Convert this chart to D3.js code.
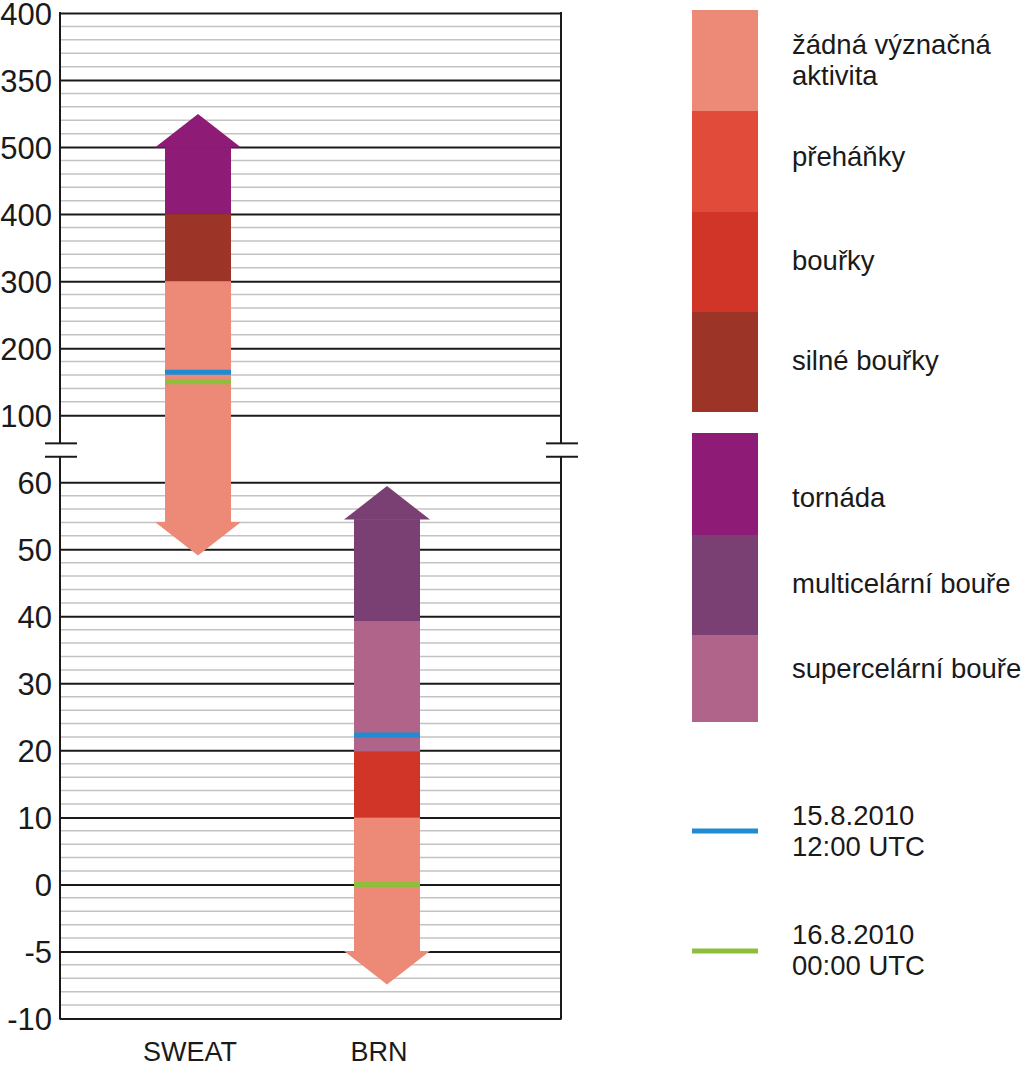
<!DOCTYPE html>
<html lang="cs">
<head>
<meta charset="UTF-8">
<title>SWEAT a BRN</title>
<script src="https://d3js.org/d3.v7.min.js"></script>
<style>
  body { margin: 0; background: #fff; }
  svg { display: block; font-family: "Liberation Sans", Arial, sans-serif; }
  .tick text { fill: #1a1a1a; }
</style>
</head>
<body>
<svg id="chart" width="1024" height="1066"></svg>
<script>
// --- data ---
var yTickLabels = ["400", "350", "500", "400", "300", "200", "100",
                   "60", "50", "40", "30", "20", "10", "0", "-5", "-10"];
var indices = ["SWEAT", "BRN"];

var categories = ["žádná význačná aktivita", "přeháňky", "bouřky", "silné bouřky",
                  "tornáda", "multicelární bouře", "supercelární bouře"];

// arrow segments, in the units of each index
var sweatSegments = [
  {cat: "tornáda", from: 400, to: 500},
  {cat: "silné bouřky", from: 300, to: 400},
  {cat: "žádná význačná aktivita", from: -60, to: 300}   // runs on past the axis break
];
var brnSegments = [
  {cat: "multicelární bouře", from: 39.3, to: 54.5},
  {cat: "supercelární bouře", from: 19.8, to: 39.3},
  {cat: "bouřky", from: 10, to: 19.8},
  {cat: "žádná význačná aktivita", from: -5, to: 10}
];

var dates = [["15.8.2010", "12:00 UTC"], ["16.8.2010", "00:00 UTC"]];
var sweatValues = [164, 150];
var brnValues = [22.3, 0];

// --- styles / layout ---
var catColor = d3.scaleOrdinal()
  .domain(categories)
  .range(["#ec8a77", "#e04b3a", "#d13527", "#9d3428", "#8e1b75", "#7a3f73", "#b0648a"]);
var dateColors = ["#1e8bd3", "#8dbf3d"];

var legendBoxes = [[10, 111], [111, 212], [212, 312], [312, 412], [433, 535], [535, 635], [635, 722]];
var legendBaselines = [54, 166, 270, 370, 507, 593, 678];
var dateLegendY = [831, 951];
var dateBaselines = [825, 944];

var plotLeft = 60, plotRight = 561;
var bodyW = 66, headW = 86, headH = 33;

var svg = d3.select("#chart");

// one row per tick label, the break sits between rows 6 and 7
var rowY = d3.scaleLinear().domain([0, yTickLabels.length - 1]).range([13, 1018.5]);
var sweatY = d3.scaleLinear().domain([100, 500]).range([rowY(6), rowY(2)]);
var brnY = d3.scaleLinear().domain([-10, -5, 0, 60]).range([rowY(15), rowY(14), rowY(13), rowY(7)]);
var x = d3.scalePoint().domain(indices).range([198, 387]);

// minor grid lines (4 per row, none inside the break)
var minorRows = [];
d3.range(yTickLabels.length - 1).forEach(function(i) {
  if (i === 6) return;
  for (var k = 1; k < 5; k++) minorRows.push(i + k / 5);
});
svg.append("g").selectAll("line").data(minorRows).join("line")
  .attr("x1", plotLeft).attr("x2", plotRight)
  .attr("y1", function(d) { return rowY(d); }).attr("y2", function(d) { return rowY(d); })
  .attr("stroke", "#c3c3c3").attr("stroke-width", 1.5);

// major grid lines
var grid = svg.append("g")
  .attr("transform", "translate(" + plotLeft + ",0)")
  .call(d3.axisRight(rowY).tickValues(d3.range(yTickLabels.length))
    .tickSize(plotRight - plotLeft).tickFormat(""));
grid.select(".domain").remove();
grid.selectAll(".tick line").attr("stroke", "#1a1a1a").attr("stroke-width", 2);

// y labels
var yAxis = svg.append("g")
  .attr("transform", "translate(" + plotLeft + ",0)")
  .call(d3.axisLeft(rowY).tickValues(d3.range(yTickLabels.length))
    .tickSize(0).tickPadding(8)
    .tickFormat(function(i) { return yTickLabels[i]; }));
yAxis.select(".domain").remove();
yAxis.selectAll("text").style("font-size", "31px").attr("dy", "0.36em");

// arrows
function drawArrow(name, segments, scale) {
  var cx = x(name);
  var g = svg.append("g");
  g.selectAll("rect").data(segments).join("rect")
    .attr("x", cx - bodyW / 2).attr("width", bodyW)
    .attr("y", function(d) { return scale(d.to); })
    .attr("height", function(d) { return scale(d.from) - scale(d.to); })
    .attr("fill", function(d) { return catColor(d.cat); });
  var top = segments[0], bottom = segments[segments.length - 1];
  var yt = scale(top.to), yb = scale(bottom.from);
  g.append("path")
    .attr("d", d3.line()([[cx - headW / 2, yt + 0.5], [cx, yt - headH], [cx + headW / 2, yt + 0.5]]))
    .attr("fill", catColor(top.cat));
  g.append("path")
    .attr("d", d3.line()([[cx - headW / 2, yb - 0.5], [cx, yb + headH], [cx + headW / 2, yb - 0.5]]))
    .attr("fill", catColor(bottom.cat));
  return cx;
}
var sx = drawArrow("SWEAT", sweatSegments, sweatY);
var bx = drawArrow("BRN", brnSegments, brnY);

// date markers on the arrows
function drawMarks(cx, values, scale) {
  svg.append("g").selectAll("line").data(values).join("line")
    .attr("x1", cx - bodyW / 2).attr("x2", cx + bodyW / 2)
    .attr("y1", function(d) { return scale(d); }).attr("y2", function(d) { return scale(d); })
    .attr("stroke", function(d, i) { return dateColors[i]; })
    .attr("stroke-width", 5);
}
drawMarks(sx, sweatValues, sweatY);
drawMarks(bx, brnValues, brnY);

// frame with break marks
var breakTop = rowY(6.42), breakBottom = rowY(6.62);
[plotLeft, plotRight].forEach(function(px) {
  var f = svg.append("g").attr("stroke", "#1a1a1a").attr("stroke-width", 2);
  f.append("line").attr("x1", px).attr("x2", px).attr("y1", rowY(0) - 1).attr("y2", breakTop);
  f.append("line").attr("x1", px).attr("x2", px).attr("y1", breakBottom).attr("y2", rowY(15) + 1);
  [breakTop, breakBottom].forEach(function(by) {
    f.append("line").attr("x1", px - 15).attr("x2", px + 17).attr("y1", by).attr("y2", by);
  });
});

// x labels
svg.append("g").selectAll("text").data(indices).join("text")
  .attr("x", function(d) { return x(d) - 8; })
  .attr("y", 1061)
  .attr("text-anchor", "middle")
  .style("font-size", "27px").attr("fill", "#1a1a1a")
  .text(function(d) { return d; });

// legend
var legend = svg.append("g");
legend.selectAll("rect").data(categories).join("rect")
  .attr("x", 692).attr("width", 66)
  .attr("y", function(d, i) { return legendBoxes[i][0]; })
  .attr("height", function(d, i) { return legendBoxes[i][1] - legendBoxes[i][0]; })
  .attr("fill", function(d) { return catColor(d); });

var legendText = legend.selectAll("text.cat").data(categories).join("text")
  .attr("class", "cat")
  .attr("x", 792)
  .attr("y", function(d, i) { return legendBaselines[i]; })
  .style("font-size", "27.5px").attr("fill", "#1a1a1a");
legendText.each(function(d, i) {
  var t = d3.select(this);
  if (i === 0) {
    t.append("tspan").attr("x", 792).text("žádná význačná");
    t.append("tspan").attr("x", 792).attr("dy", 31).text("aktivita");
  } else {
    t.text(d);
  }
});

legend.selectAll("line").data(dates).join("line")
  .attr("x1", 692).attr("x2", 758)
  .attr("y1", function(d, i) { return dateLegendY[i]; })
  .attr("y2", function(d, i) { return dateLegendY[i]; })
  .attr("stroke", function(d, i) { return dateColors[i]; })
  .attr("stroke-width", 5);

legend.selectAll("text.date").data(dates).join("text")
  .attr("class", "date")
  .attr("x", 792)
  .attr("y", function(d, i) { return dateBaselines[i]; })
  .style("font-size", "27.5px").attr("fill", "#1a1a1a")
  .each(function(d) {
    var t = d3.select(this);
    t.append("tspan").attr("x", 792).text(d[0]);
    t.append("tspan").attr("x", 792).attr("dy", 31).text(d[1]);
  });
</script>
</body>
</html>
